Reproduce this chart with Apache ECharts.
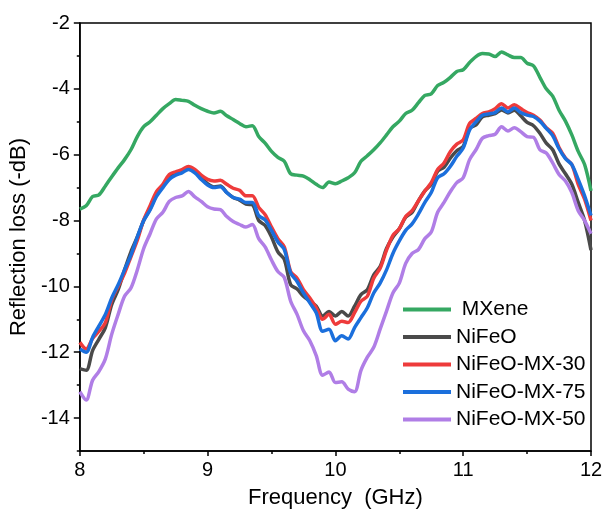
<!DOCTYPE html>
<html>
<head>
<meta charset="utf-8">
<script src="https://cdn.jsdelivr.net/npm/echarts@6/dist/echarts.min.js"></script>
<style>
  html, body { margin: 0; padding: 0; background: #fff; }
  #chart { width: 606px; height: 515px; }
</style>
</head>
<body>
<div id="chart"></div>
<script>
// 频率 (GHz)
const freq = [
  8.00, 8.05, 8.10, 8.15, 8.20, 8.25, 8.30, 8.35, 8.40, 8.45,
  8.50, 8.55, 8.60, 8.65, 8.70, 8.75, 8.80, 8.85, 8.90, 8.95,
  9.00, 9.05, 9.10, 9.15, 9.20, 9.25, 9.30, 9.35, 9.40, 9.45,
  9.50, 9.55, 9.60, 9.65, 9.70, 9.75, 9.80, 9.85, 9.90, 9.95,
  10.00, 10.05, 10.10, 10.15, 10.20, 10.25, 10.30, 10.35, 10.40, 10.45,
  10.50, 10.55, 10.60, 10.65, 10.70, 10.75, 10.80, 10.85, 10.90, 10.95,
  11.00, 11.05, 11.10, 11.15, 11.20, 11.25, 11.30, 11.35, 11.40, 11.45,
  11.50, 11.55, 11.60, 11.65, 11.70, 11.75, 11.80, 11.85, 11.90, 11.95,
  12.00
];

// 各样品的反射损耗 (-dB)
const mxene = [
  -7.65, -7.55, -7.27, -7.22, -6.95, -6.67, -6.4, -6.15, -5.85, -5.45,
  -5.15, -5.0, -4.8, -4.6, -4.45, -4.32, -4.35, -4.38, -4.5, -4.6,
  -4.68, -4.73, -4.68, -4.82, -4.93, -5.05, -5.15, -5.12, -5.45, -5.65,
  -5.9, -6.08, -6.2, -6.58, -6.62, -6.65, -6.76, -6.9, -7.0, -6.83,
  -6.88, -6.8, -6.7, -6.55, -6.2, -6.03, -5.85, -5.64, -5.4, -5.15,
  -4.98, -4.75, -4.65, -4.42, -4.2, -4.15, -3.9, -3.8, -3.65, -3.47,
  -3.42, -3.2, -3.02, -2.93, -2.94, -3.02, -2.88, -2.97, -3.05, -3.05,
  -3.22, -3.3, -3.65, -4.0, -4.22, -4.65, -4.98, -5.4, -5.9, -6.3,
  -7.1
];
const nifeo = [
  -12.5, -12.55, -11.95, -11.6, -11.25, -10.55, -10.1, -9.5, -8.95, -8.5,
  -8.0, -7.65, -7.22, -6.95, -6.68, -6.58, -6.5, -6.4, -6.5, -6.7,
  -6.88, -6.98, -6.95, -7.15, -7.3, -7.38, -7.5, -7.52, -8.0, -8.15,
  -8.5, -8.95, -9.18, -9.95, -10.08, -10.3, -10.45, -10.6, -10.9, -10.76,
  -10.9, -10.76, -10.9, -10.6, -10.25, -10.1, -9.65, -9.4, -8.85, -8.5,
  -8.25, -7.9, -7.75, -7.4, -7.1, -6.9, -6.5, -6.38, -6.1, -5.88,
  -5.75, -5.2, -5.1, -4.85, -4.8, -4.75, -4.64, -4.73, -4.65, -4.82,
  -5.02, -5.12, -5.35, -5.65, -5.85, -6.28, -6.58, -6.9, -7.45, -8.0,
  -8.9
];
const mx30 = [
  -11.7, -11.9, -11.58, -11.36, -11.1, -10.4, -10.0, -9.6, -9.1, -8.6,
  -7.98, -7.55, -7.12, -6.9, -6.6, -6.52, -6.45, -6.36, -6.45, -6.62,
  -6.75, -6.8, -6.78, -6.9, -7.02, -7.08, -7.25, -7.25, -7.6, -7.82,
  -8.2, -8.55, -8.8, -9.55, -9.75, -10.1, -10.35, -10.65, -11.0, -10.85,
  -11.15, -11.06, -11.1, -10.8, -10.45, -10.3, -9.75, -9.45, -8.9, -8.45,
  -8.25, -7.88, -7.7, -7.4, -7.1, -6.85, -6.45, -6.25, -5.9, -5.68,
  -5.55, -5.05, -4.9, -4.75, -4.7, -4.6, -4.45, -4.58, -4.48, -4.6,
  -4.72, -4.8, -4.95, -5.18, -5.35, -5.78, -6.1, -6.3, -6.9, -7.35,
  -8.0
];
const mx75 = [
  -11.9, -12.0, -11.55, -11.2, -10.85, -10.35, -9.95, -9.5, -9.05, -8.5,
  -8.0, -7.68, -7.27, -7.0, -6.75, -6.62, -6.55, -6.45, -6.55, -6.75,
  -6.92, -7.0, -6.97, -7.15, -7.3, -7.35, -7.45, -7.45, -7.85, -7.98,
  -8.3, -8.65, -8.88, -9.6, -9.85, -10.2, -10.5, -10.8, -11.36, -11.3,
  -11.65, -11.5, -11.6, -11.25, -10.95, -10.65, -10.2, -9.9, -9.5, -9.0,
  -8.62, -8.3, -8.1, -7.8, -7.45, -7.15, -6.7, -6.58, -6.35, -6.05,
  -5.8, -5.25, -5.0, -4.8, -4.76, -4.72, -4.58, -4.7, -4.58, -4.72,
  -4.8, -4.84, -4.98, -5.2, -5.42, -5.82, -6.12, -6.3, -6.75, -7.25,
  -7.85
];
const mx50 = [
  -13.2, -13.45, -12.85, -12.58, -12.2, -11.45, -10.85, -10.3, -10.05, -9.5,
  -8.85, -8.4, -7.95, -7.75, -7.42, -7.3, -7.25, -7.12, -7.28, -7.42,
  -7.58, -7.65, -7.67, -7.88, -8.03, -8.12, -8.2, -8.12, -8.55, -8.8,
  -9.2, -9.55, -9.73, -10.45, -10.85, -11.35, -11.65, -12.1, -12.7, -12.6,
  -12.92, -12.9, -13.12, -13.2, -12.55, -12.15, -11.85, -11.3, -10.75, -10.2,
  -9.9, -9.3, -9.0, -8.88, -8.55, -8.35, -7.75, -7.45, -7.12, -6.85,
  -6.7, -6.15, -5.85, -5.5, -5.42, -5.38, -5.15, -5.28, -5.18, -5.3,
  -5.45, -5.47, -5.85, -5.95, -6.25, -6.6, -6.8, -7.15, -7.7, -8.0,
  -8.4
];

// 坐标轴刻度
const yMajor = [-14, -12, -10, -8, -6, -4, -2];
const yMinor = [-15, -13, -11, -9, -7, -5, -3];

const names = [' MXene', 'NiFeO', 'NiFeO-MX-30', 'NiFeO-MX-75', 'NiFeO-MX-50'];
const colors = ['#35a862', '#4a4a4a', '#ee3b3b', '#1b6fdc', '#b07ee6'];
const values = [mxene, nifeo, mx30, mx75, mx50];

const font = 'Liberation Sans, Arial, Helvetica, sans-serif';

function pairs(ys) {
  return freq.map(function (f, i) { return [f, ys[i]]; });
}

let chartDom = document.getElementById('chart');
let mychart = echarts.init(chartDom, null, { renderer: 'canvas' });

let series = names.map(function (n, i) {
  return {
    name: n,
    type: 'line',
    data: pairs(values[i]),
    symbol: 'none',
    smooth: 0.3,
    lineStyle: { color: colors[i], width: 3.5 },
    itemStyle: { color: colors[i] },
    animation: false
  };
});

let option = {
  backgroundColor: '#fff',
  textStyle: { fontFamily: font, color: '#000' },
  grid: {
    left: 79, right: 15, top: 23, bottom: 64,
    show: true, borderColor: '#000', borderWidth: 1.5,
    containLabel: false
  },
  legend: {
    orient: 'vertical',
    left: 398,
    top: 294,
    icon: 'rect',
    itemWidth: 48,
    itemHeight: 4,
    itemGap: 6.5,
    textStyle: { fontSize: 21, fontFamily: font, color: '#000' },
    data: names
  },
  xAxis: {
    type: 'value',
    min: 8, max: 12, interval: 1,
    name: 'Frequency  (GHz)',
    nameLocation: 'middle',
    nameGap: 36,
    nameTextStyle: { fontSize: 22, fontFamily: font, color: '#000' },
    axisLine: { show: true, onZero: false, lineStyle: { color: '#000', width: 1.5 } },
    axisTick: { show: true, inside: false, length: 5, lineStyle: { color: '#000', width: 1.5 } },
    minorTick: { show: true, splitNumber: 2, length: 3, lineStyle: { color: '#000', width: 1.5 } },
    axisLabel: { fontSize: 20, margin: 9, color: '#000', fontFamily: font },
    splitLine: { show: false }
  },
  yAxis: [
    {
      type: 'value',
      min: -15, max: -2,
      position: 'left',
      name: 'Reflection loss (-dB)',
      nameLocation: 'middle',
      nameGap: 46,
      nameTextStyle: { fontSize: 22, fontFamily: font, color: '#000' },
      axisLine: { show: true, onZero: false, lineStyle: { color: '#000', width: 1.5 } },
      axisTick: { show: true, inside: false, length: 6, customValues: yMajor, lineStyle: { color: '#000', width: 1.5 } },
      axisLabel: { fontSize: 20, margin: 10, color: '#000', fontFamily: font, customValues: yMajor },
      splitLine: { show: false }
    },
    {
      type: 'value',
      min: -15, max: -2,
      position: 'left',
      axisLine: { show: false },
      axisTick: { show: true, inside: false, length: 3, customValues: yMinor, lineStyle: { color: '#000', width: 1.5 } },
      axisLabel: { show: false },
      splitLine: { show: false }
    }
  ],
  series: series
};

option && mychart.setOption(option);
</script>
</body>
</html>
